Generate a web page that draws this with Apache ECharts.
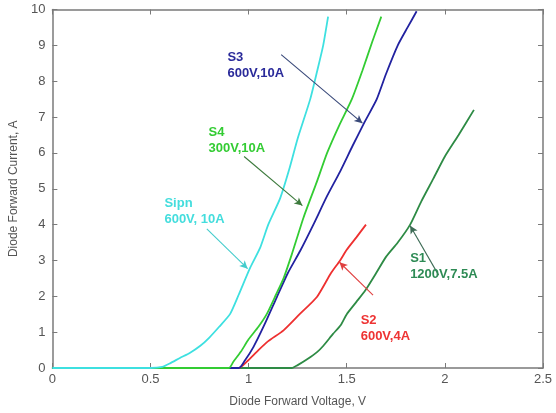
<!DOCTYPE html>
<html><head><meta charset="utf-8">
<script src="https://cdn.jsdelivr.net/npm/echarts@6/dist/echarts.min.js"></script>
<style>html,body{margin:0;padding:0;background:#fff}#c{width:556px;height:413px}</style>
</head><body><div id="c"></div>
<script>
const xTicks = [0, 0.5, 1, 1.5, 2, 2.5];
const yTicks = [0,1,2,3,4,5,6,7,8,9,10];
const sipn = [[0,0],[0.5,0],[0.56,0.03],[0.60,0.13],[0.65,0.28],[0.70,0.42],[0.754,0.62],[0.80,0.85],[0.85,1.15],[0.906,1.51],[0.95,2.05],[1.008,2.8],[1.059,3.36],[1.10,4.0],[1.161,4.74],[1.21,5.6],[1.25,6.4],[1.314,7.5],[1.35,8.3],[1.38,9.0],[1.405,9.8]];
const s4 = [[0,0],[0.9,0],[0.923,0.18],[0.96,0.45],[1.0,0.8],[1.05,1.15],[1.093,1.51],[1.14,2.05],[1.178,2.5],[1.22,3.17],[1.28,4.2],[1.348,5.2],[1.40,6.0],[1.46,6.75],[1.526,7.5],[1.58,8.3],[1.63,9.1],[1.676,9.8]];
const s3 = [[0,0],[0.95,0],[0.98,0.2],[1.025,0.59],[1.08,1.2],[1.144,1.98],[1.20,2.65],[1.263,3.27],[1.33,4.0],[1.40,4.8],[1.466,5.48],[1.53,6.2],[1.59,6.85],[1.653,7.5],[1.70,8.2],[1.76,9.0],[1.81,9.5],[1.856,9.95]];
const s2 = [[0,0],[0.95,0],[0.991,0.18],[1.05,0.5],[1.10,0.75],[1.178,1.05],[1.26,1.5],[1.348,1.98],[1.42,2.65],[1.466,3.0],[1.50,3.3],[1.55,3.65],[1.598,4.0]];
const s1 = [[0,0],[1.22,0],[1.25,0.08],[1.30,0.25],[1.35,0.45],[1.381,0.62],[1.43,0.95],[1.47,1.2],[1.50,1.5],[1.55,1.85],[1.594,2.16],[1.65,2.65],[1.70,3.1],[1.76,3.5],[1.823,4.0],[1.88,4.65],[1.942,5.29],[2.0,5.9],[2.07,6.5],[2.148,7.2]];
const labels = {
  sipn: {text:'Sipn\n600V, 10A', at:[0.571,4.8], arrow:[[0.787,3.88],[0.995,2.77]]},
  s4: {text:'S4\n300V,10A', at:[0.796,6.8], arrow:[[0.977,5.9],[1.274,4.53]]},
  s3: {text:'S3\n600V,10A', at:[0.892,8.9], arrow:[[1.166,8.74],[1.58,6.83]]},
  s2: {text:'S2\n600V,4A', at:[1.571,1.56], arrow:[[1.634,2.03],[1.463,2.95]]},
  s1: {text:'S1\n1200V,7.5A', at:[1.823,3.27], arrow:[[1.968,2.59],[1.823,3.97]]}
};
const chart = echarts.init(document.getElementById('c'), null, {renderer:'canvas'});
const axisCol = '#7a7a7a';
function mkSeries(name, data, color, lbl, textColor, arrowColor){
  return {
    name, type:'line', data, showSymbol:false, symbol:'none', smooth:0.2,
    lineStyle:{color, width:1.8}, z:3,
    markLine:{
      silent:true, symbol:['none','arrow'], symbolSize:[6,8],
      lineStyle:{color:arrowColor, width:1.1, type:'solid'},
      label:{show:false},
      data:[[{coord:lbl.arrow[0]},{coord:lbl.arrow[1]}]]
    },
    markPoint:{
      silent:true, symbol:'circle', symbolSize:0,
      label:{show:true, position:[0,0], align:'left', verticalAlign:'top', color:textColor,
        fontFamily:'Liberation Sans, Arial', fontWeight:'bold', fontSize:13, lineHeight:16,
        formatter:()=>lbl.text},
      data:[{coord:lbl.at}]
    }
  };
}
const axisLineStyle = {show:true, onZero:false, lineStyle:{color:axisCol, width:1.5}};
const tickStyle = {show:true, inside:true, length:5, lineStyle:{color:axisCol}};
chart.setOption({
  animation:false,
  grid:{left:52, right:13, top:9.5, bottom:41.5},
  xAxis:[{
    type:'value', min:0, max:2.5, interval:0.5, position:'bottom',
    axisLine:axisLineStyle, axisTick:tickStyle,
    axisLabel:{color:'#555', fontSize:13, fontFamily:'Liberation Sans, Arial', margin:5,
      formatter:v=>xTicks.includes(v)?String(v):''},
    splitLine:{show:false},
    name:'Diode Forward Voltage, V', nameLocation:'middle', nameGap:28,
    nameTextStyle:{color:'#555', fontSize:12, fontFamily:'Liberation Sans, Arial'}
  },{
    type:'value', min:0, max:2.5, interval:0.5, position:'top',
    axisLine:axisLineStyle, axisTick:tickStyle,
    axisLabel:{show:false}, splitLine:{show:false}
  }],
  yAxis:[{
    type:'value', min:0, max:10, interval:1, position:'left',
    axisLine:axisLineStyle, axisTick:tickStyle,
    axisLabel:{color:'#555', fontSize:13, fontFamily:'Liberation Sans, Arial', margin:7,
      formatter:v=>yTicks.includes(v)?String(v):''},
    splitLine:{show:false},
    name:'Diode Forward Current, A', nameLocation:'middle', nameGap:30,
    nameTextStyle:{color:'#555', fontSize:12, fontFamily:'Liberation Sans, Arial'}
  },{
    type:'value', min:0, max:10, interval:1, position:'right',
    axisLine:axisLineStyle, axisTick:tickStyle,
    axisLabel:{show:false}, splitLine:{show:false}
  }],
  series:[
    mkSeries('S1', s1, '#2e8b45', labels.s1, '#2e8b55', '#3d6b55'),
    mkSeries('S2', s2, '#ee3030', labels.s2, '#ee3333', '#e04040'),
    mkSeries('S3', s3, '#2222a0', labels.s3, '#2a2a9a', '#3a4a7a'),
    mkSeries('S4', s4, '#33cc33', labels.s4, '#33cc33', '#3d7a3d'),
    mkSeries('Sipn', sipn, '#3ee0e0', labels.sipn, '#44dddd', '#44cccc')
  ]
});
</script></body></html>
